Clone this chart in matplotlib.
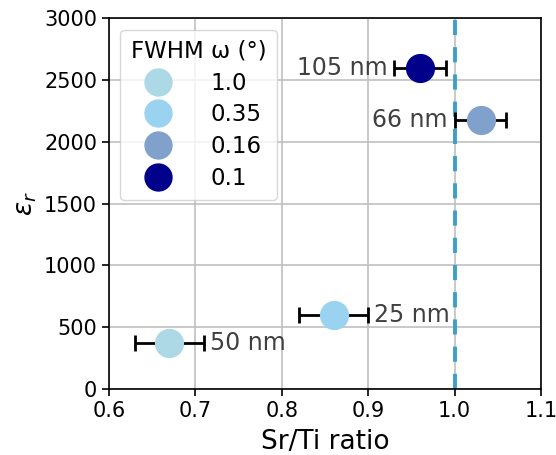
import matplotlib
matplotlib.use("Agg")
import matplotlib.pyplot as plt

# data
sr_ti = [0.67, 0.86, 1.03, 0.96]
sr_ti_err = [0.04, 0.04, 0.03, 0.03]
eps_r = [370, 600, 2180, 2600]
fwhm = ["1.0", "0.35", "0.16", "0.1"]
thickness = ["50 nm", "25 nm", "66 nm", "105 nm"]
colors = ["#add8e6", "#9ad3f0", "#80a1cc", "#00008b"]
label_side = ["right", "right", "left", "left"]

fig = plt.figure(figsize=(5.56, 4.55), dpi=100)
ax = fig.add_axes([0.196, 0.145, 0.777, 0.815])

ax.grid(True, color="#c0c0c0", linewidth=1.2, zorder=0)
ax.axvline(1.0, color="#3d9fc8", linestyle="--", linewidth=2.8, dashes=(3.9, 3.1), zorder=2)

for x, xe, y, c, lab in zip(sr_ti, sr_ti_err, eps_r, colors, fwhm):
    ax.errorbar(x, y, xerr=xe, fmt="none", ecolor="black", elinewidth=2,
                capsize=6, capthick=2, zorder=3)
    ax.plot(x, y, "o", color=c, markersize=20, label=lab, zorder=4)

# thickness labels next to the error bars
for x, xe, y, t, side in zip(sr_ti, sr_ti_err, eps_r, thickness, label_side):
    if side == "right":
        ax.text(x + xe + 0.007, y, t, ha="left", va="center", fontsize=17,
                color="#404040", zorder=5)
    else:
        ax.text(x - xe - 0.008, y, t, ha="right", va="center", fontsize=17,
                color="#404040", zorder=5)

ax.set_xlim(0.6, 1.1)
ax.set_ylim(0, 3000)
ax.set_xticks([0.6, 0.7, 0.8, 0.9, 1.0, 1.1])
ax.set_yticks(range(0, 3001, 500))
ax.tick_params(labelsize=15, width=1.2, length=5)
for s in ax.spines.values():
    s.set_linewidth(1.2)
ax.set_xlabel("Sr/Ti ratio", fontsize=19, labelpad=6)
ax.set_ylabel(r"$\varepsilon_r$", fontsize=19)

leg = ax.legend(title="FWHM ω (°)", fontsize=16.5, title_fontsize=16.5,
                loc="upper left", markerscale=0.97, handletextpad=1.3,
                labelspacing=0.38, borderpad=0.45)

fig.savefig("out.png", dpi=100)
